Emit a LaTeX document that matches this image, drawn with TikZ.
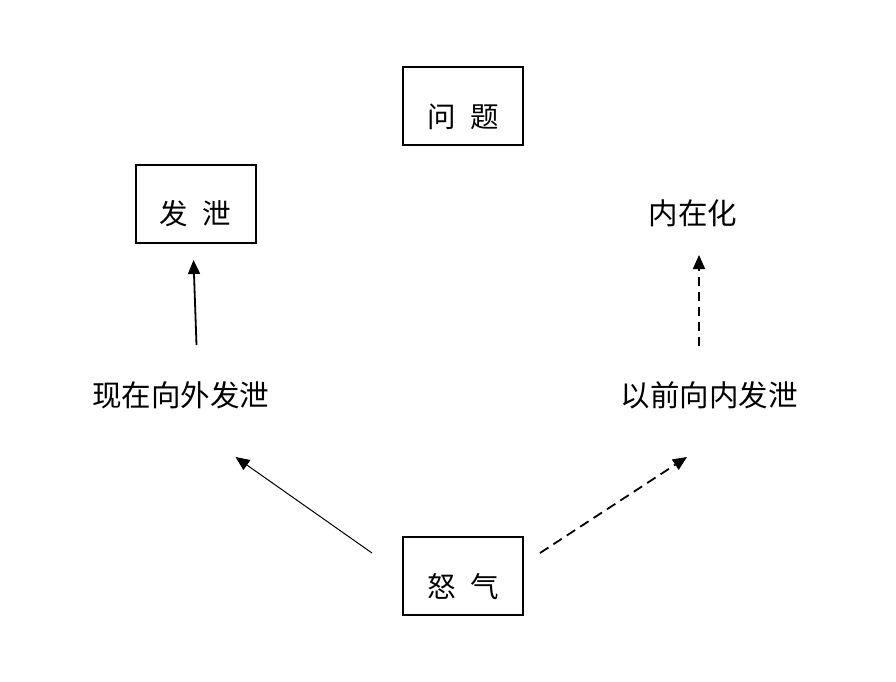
\documentclass[tikz,border=0pt]{standalone}
\usepackage{fontspec}
\setmainfont{Noto Sans CJK SC}
\usetikzlibrary{arrows.meta,positioning}
\tikzset{
  kuang/.style={draw,line width=2pt,minimum width=120pt,minimum height=78pt,inner sep=0pt},
  zi/.style={inner sep=0pt,font=\fontsize{28.5}{30}\selectfont},
  biaoqian/.style={inner sep=0pt,font=\fontsize{29.5}{32}\selectfont},
  jian/.style={-{Triangle[length=14pt,width=12pt]}},
}
\begin{document}
\begin{tikzpicture}[x=1pt,y=-1pt]
\path[use as bounding box,fill=white] (0,0) rectangle (896,682);
\node[kuang](WT) at (463,106){};
\node[zi](WT1) at (463,117){问\hspace{0.5em}题};
\node[kuang](FX) at (195.5,204){};
\node[zi](FX1) at (195.5,214){发\hspace{0.5em}泄};
\node[kuang](NQ) at (463,576){};
\node[zi](NQ1) at (463,587){怒\hspace{0.5em}气};
\node[biaoqian](NZH) at (693,213){内在化};
\node[biaoqian,below=181pt of FX1.center,anchor=center,xshift=-15pt](XZ){现在向外发泄};
\node[biaoqian](YQ) at (709,395){以前向内发泄};
\draw[jian,line width=1.8pt]([xshift=16pt,yshift=50pt]XZ.center)--([xshift=-2pt,yshift=-16pt]FX.south);
\draw[jian,line width=1.8pt,dash pattern=on 9pt off 6pt]([xshift=-10pt,yshift=49pt]YQ.center)--([xshift=6pt,yshift=-42pt]NZH.center);
\draw[jian,line width=1pt]([xshift=-30pt,yshift=23pt]NQ.west)--([xshift=55pt,yshift=-62pt]XZ.center);
\draw[jian,line width=1.8pt,dash pattern=on 10pt off 6pt]([xshift=16pt,yshift=23pt]NQ.east)--([xshift=-22pt,yshift=-62pt]YQ.center);
\end{tikzpicture}
\end{document}
